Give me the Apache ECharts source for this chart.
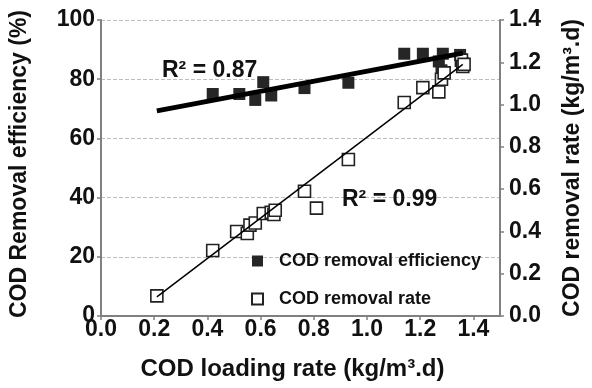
<!DOCTYPE html>
<html><head><meta charset="utf-8">
<script src="https://cdn.jsdelivr.net/npm/echarts@6/dist/echarts.min.js"></script>
<style>html,body{margin:0;padding:0;background:#fff}#c{width:592px;height:388px}</style>
</head><body><div id="c"></div>
<script>
// COD removal efficiency (%) vs loading rate
const effLoading = [0.42, 0.52, 0.58, 0.61, 0.64, 0.765, 0.93, 1.14, 1.21, 1.285, 1.27, 1.28, 1.35, 1.36];
const effValues  = [75.0, 75.0, 73.0, 79.0, 74.5, 77.0, 78.8, 88.6, 88.6, 88.6, 86.0, 83.0, 88.2, 85.5];
// COD removal rate (kg/m3.d) vs loading rate
const rateLoading = [0.21, 0.42, 0.51, 0.55, 0.56, 0.58, 0.61, 0.64, 0.65, 0.655, 0.765, 0.81, 0.93, 1.14, 1.21, 1.27, 1.28, 1.29, 1.355, 1.36, 1.365];
const rateValues  = [0.095, 0.31, 0.40, 0.39, 0.43, 0.44, 0.485, 0.49, 0.48, 0.50, 0.59, 0.51, 0.74, 1.01, 1.08, 1.06, 1.12, 1.15, 1.21, 1.18, 1.19];
// Linear trend lines (end points)
const effTrendX = [0.21, 1.36];
const effTrendY = [69.3, 88.8];
const rateTrendX = [0.21, 1.36];
const rateTrendY = [0.09, 1.19];
const effR2 = 'R² = 0.87';
const rateR2 = 'R² = 0.99';

const zip = (a, b) => a.map((v, i) => [v, b[i]]);
const FONT = '"Liberation Sans", Arial, sans-serif';
const chart = echarts.init(document.getElementById('c'), null, {renderer: 'canvas'});
const axisLine = {show: true, lineStyle: {color: '#808080', width: 2}};
const axisTick = {show: true, length: 4, lineStyle: {color: '#808080', width: 1.5}};
const lbl = {color: '#111', fontFamily: FONT, fontWeight: 'bold', fontSize: 23};
const titleStyle = {color: '#111', fontFamily: FONT, fontWeight: 'bold', fontSize: 23};
chart.setOption({
  animation: false,
  grid: {left: 94, right: 82, top: 20, bottom: 72},
  xAxis: {
    type: 'value', min: 0, max: 1.5, interval: 0.2,
    name: 'COD loading rate (kg/m³.d)', nameLocation: 'middle', nameGap: 41,
    nameTextStyle: Object.assign({}, titleStyle, {fontSize: 24, padding: [0, 16, 0, 0]}),
    axisLine, axisTick,
    axisLabel: Object.assign({}, lbl, {margin: 2, showMaxLabel: false, formatter: v => v > 1.45 ? '' : v.toFixed(1)}),
    splitLine: {show: false}
  },
  yAxis: [{
    type: 'value', min: 0, max: 100, interval: 20, position: 'left',
    name: 'COD Removal efficiency (%)', nameLocation: 'middle', nameGap: 70, nameRotate: 90,
    nameTextStyle: Object.assign({}, titleStyle, {padding: [0, 0, 0, 8]}),
    axisLine, axisTick, axisLabel: Object.assign({}, lbl, {margin: 6}),
    splitLine: {show: true, lineStyle: {color: '#bdbdbd', type: 'dashed', width: 1}}
  }, {
    type: 'value', min: 0, max: 1.4, interval: 0.2, position: 'right',
    name: 'COD removal rate (kg/m³.d)', nameLocation: 'middle', nameGap: 61, nameRotate: 90,
    nameTextStyle: titleStyle,
    axisLine, axisTick, axisLabel: Object.assign({}, lbl, {margin: 9, formatter: v => v.toFixed(1)}),
    splitLine: {show: false}
  }],
  legend: {
    orient: 'vertical', left: 246, top: 247, itemWidth: 11, itemHeight: 11, itemGap: 20,
    icon: 'rect',
    textStyle: {color: '#111', fontFamily: FONT, fontWeight: 'bold', fontSize: 18, padding: [0, 0, 0, 11]},
    data: ['COD removal efficiency', 'COD removal rate']
  },
  series: [{
    name: 'COD removal efficiency', type: 'scatter', yAxisIndex: 0, symbol: 'rect', symbolSize: 12,
    itemStyle: {color: '#262626', opacity: 1}, z: 2,
    data: zip(effLoading, effValues)
  }, {
    name: 'COD removal rate', type: 'scatter', yAxisIndex: 1, symbol: 'rect', symbolSize: 12,
    itemStyle: {color: '#ffffff', borderColor: '#222', borderWidth: 1.6, opacity: 1}, z: 3,
    data: zip(rateLoading, rateValues)
  }, {
    name: 'eff-trend', type: 'line', yAxisIndex: 0, showSymbol: false, symbol: 'none', silent: true, z: 4,
    lineStyle: {color: '#000', width: 5}, data: zip(effTrendX, effTrendY)
  }, {
    name: 'rate-trend', type: 'line', yAxisIndex: 1, showSymbol: false, symbol: 'none', silent: true, z: 4,
    lineStyle: {color: '#000', width: 1.5}, data: zip(rateTrendX, rateTrendY)
  }],
  graphic: [
    {type: 'text', left: 162, top: 59, z: 10, style: {text: effR2, fill: '#111', font: 'bold 23px ' + FONT}},
    {type: 'text', left: 342, top: 188, z: 10, style: {text: rateR2, fill: '#111', font: 'bold 23px ' + FONT}}
  ]
});
</script></body></html>
